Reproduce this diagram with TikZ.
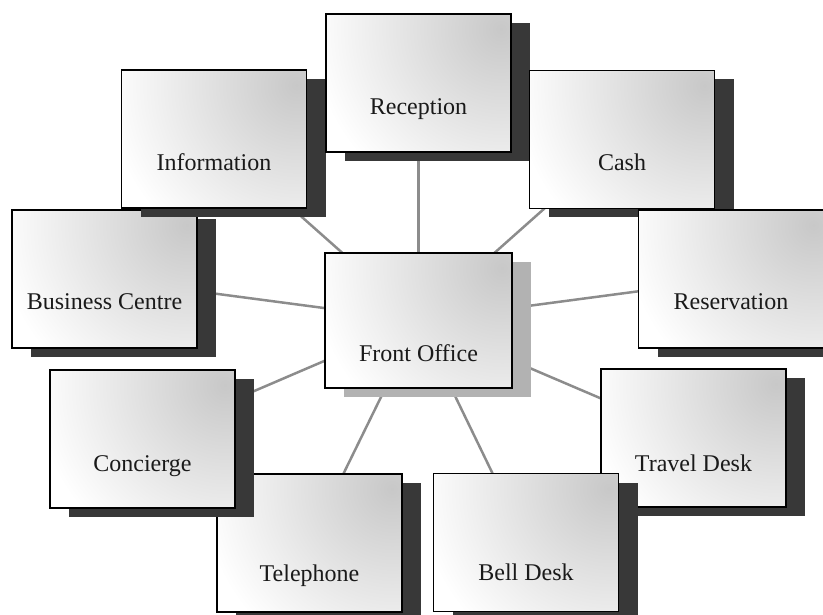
\documentclass[tikz,border=0pt]{standalone}
\usepackage{fontspec}
\setmainfont{Liberation Serif}
\newfontfamily\deptfont{Liberation Serif}
\usetikzlibrary{shadows,backgrounds}

\definecolor{shadowdark}{HTML}{383838}
\definecolor{shadowlight}{HTML}{B2B2B2}
\definecolor{spokegray}{HTML}{8C8C8C}
\definecolor{boxgray}{HTML}{C8C8C8}
\definecolor{inkgray}{HTML}{1A1A1A}

\tikzset{
  deptbox/.style={
    draw=black, line width=1.3pt, rectangle, inner sep=0pt,
    minimum width=185pt, minimum height=138pt,
    path picture={
      \fill[white] (path picture bounding box.south west) rectangle (path picture bounding box.north east);
      \shade[inner color=boxgray, outer color=white]
        ([xshift=-10pt,yshift=-15pt]path picture bounding box.north east) circle (190pt);
    }
  },
  depttext/.style={anchor=base, inner sep=0pt, text=inkgray,
    font=\deptfont\fontsize{24}{28}\selectfont},
  spoke/.style={draw=spokegray, line width=2.5pt}
}

% name, x, y, label, baseline drop, shadow colour
\newcommand\deptunit[6]{%
  \node[deptbox, drop shadow={shadow xshift=19pt, shadow yshift=-9pt, fill=#6, opacity=1}]
    (#1) at (#2,#3) {};
  \node[depttext] (#1-text) at ([yshift=-#5pt]#1.center) {#4};
}

\begin{document}
\begin{tikzpicture}[x=1pt, y=-1pt]
  \useasboundingbox (0,0) rectangle (823,615);

  \deptunit{tel}{309.5}{543}{Telephone}{38}{shadowdark}
  \deptunit{con}{142.5}{439}{Concierge}{32}{shadowdark}
  \deptunit{biz}{104.5}{279}{Business Centre}{30}{shadowdark}
  \deptunit{inf}{214}{139}{Information}{32}{shadowdark}
  \deptunit{rec}{418.5}{83}{Reception}{32}{shadowdark}
  \deptunit{cash}{622}{139.5}{Cash}{31.5}{shadowdark}
  \deptunit{res}{731}{279}{Reservation}{30}{shadowdark}
  \deptunit{trv}{693.5}{438}{Travel Desk}{33}{shadowdark}
  \deptunit{bell}{526}{542.5}{Bell Desk}{37.5}{shadowdark}

  \node[deptbox, minimum width=187pt, minimum height=135pt,
        drop shadow={shadow xshift=19pt, shadow yshift=-9pt, fill=shadowlight, opacity=1}]
    (fo) at (418.5,320.5) {};
  \node[depttext] (fo-text) at ([yshift=-40.5pt]fo.center) {Front Office};

  % spokes from the front office to every section, kept behind the boxes
  \begin{scope}[on background layer]
    \foreach \dept in {rec,inf,cash,biz,res,con,trv,tel,bell}
      \draw[spoke] (fo.center) -- (\dept.center);
  \end{scope}
\end{tikzpicture}
\end{document}
